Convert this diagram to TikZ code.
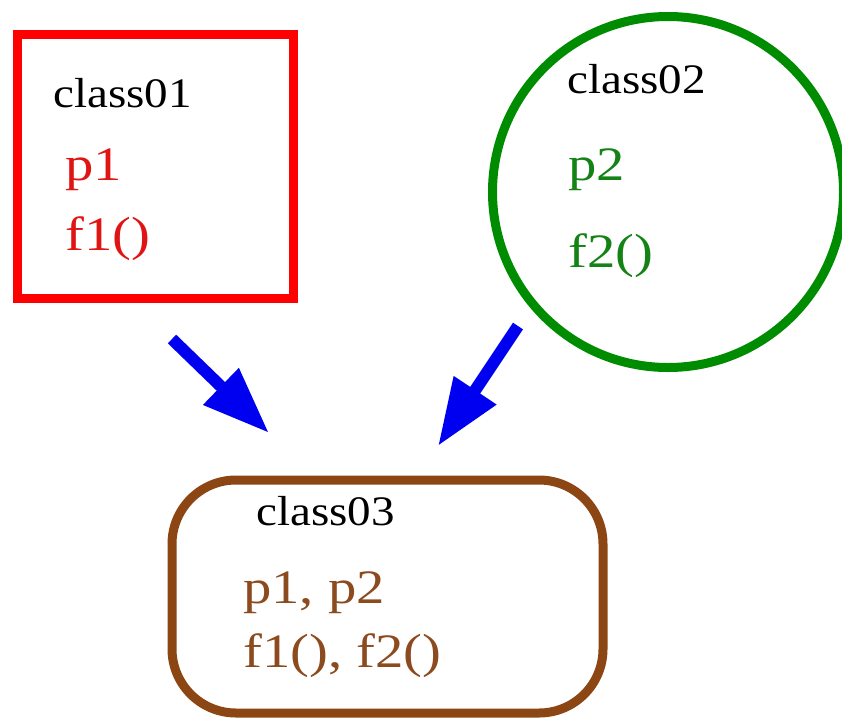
\documentclass[tikz,border=0pt]{standalone}
\usepackage{fontspec}
\setmainfont{Liberation Serif}
\usetikzlibrary{arrows.meta}
\definecolor{cred}{RGB}{255,0,0}
\definecolor{tred}{RGB}{225,20,20}
\definecolor{cgreen}{RGB}{0,140,0}
\definecolor{tgreen}{RGB}{20,130,20}
\definecolor{cbrown}{RGB}{140,70,20}
\definecolor{tbrown}{RGB}{140,75,30}
\definecolor{cblue}{RGB}{0,0,240}
\newcommand{\sx}[1]{\scalebox{1.12}[1]{#1}}
\newcommand{\sxm}[1]{\scalebox{1.18}[1]{#1}}
\tikzset{
  shapebox/.style={line width=9pt, inner sep=0pt, fill=white},
  titletext/.style={anchor=base west, inner sep=0pt, font=\fontsize{42}{46}\selectfont, text=black},
  membertext/.style={anchor=base west, inner sep=0pt, font=\fontsize{48}{52}\selectfont},
  bigarrow/.style={cblue, line width=12pt, -{Triangle[length=67pt,width=48pt]}}
}
\begin{document}
\begin{tikzpicture}[x=1pt,y=-1pt]
\useasboundingbox (0,0) rectangle (842,723);
% shapes
\node[shapebox, draw=cred, rectangle, minimum width=276pt, minimum height=264pt] (c1) at (155.5,166.5) {};
\node[shapebox, draw=cgreen, circle, minimum size=351pt] (c2) at (668,192) {};
\node[shapebox, draw=cbrown, rectangle, rounded corners=64pt, minimum width=431pt, minimum height=233pt] (c3) at (387.5,596.5) {};
% texts
\node[titletext] (t1) at (53,107) {\sx{class01}};
\node[membertext, text=tred] (p1) at (65,180) {\sxm{p1}};
\node[membertext, text=tred] (f1) at (65,250) {\sxm{f1()}};
\node[titletext] (t2) at (567,93) {\sx{class02}};
\node[membertext, text=tgreen] (p2) at (568,180) {\sxm{p2}};
\node[membertext, text=tgreen] (f2) at (568,267) {\sxm{f2()}};
\node[titletext] (t3) at (256,525) {\sx{class03}};
\node[membertext, text=tbrown] (p3) at (243,603) {\sxm{p1, p2}};
\node[membertext, text=tbrown] (f3) at (243,667) {\sxm{f1(), f2()}};
% arrows
\coordinate (a1s) at (172,339);
\coordinate (a1e) at (269,433);
\coordinate (a2s) at (518,326);
\coordinate (a2e) at (438,446);
\draw[bigarrow] (a1s) -- (a1e);
\draw[bigarrow] (a2s) -- (a2e);
\end{tikzpicture}
\end{document}
